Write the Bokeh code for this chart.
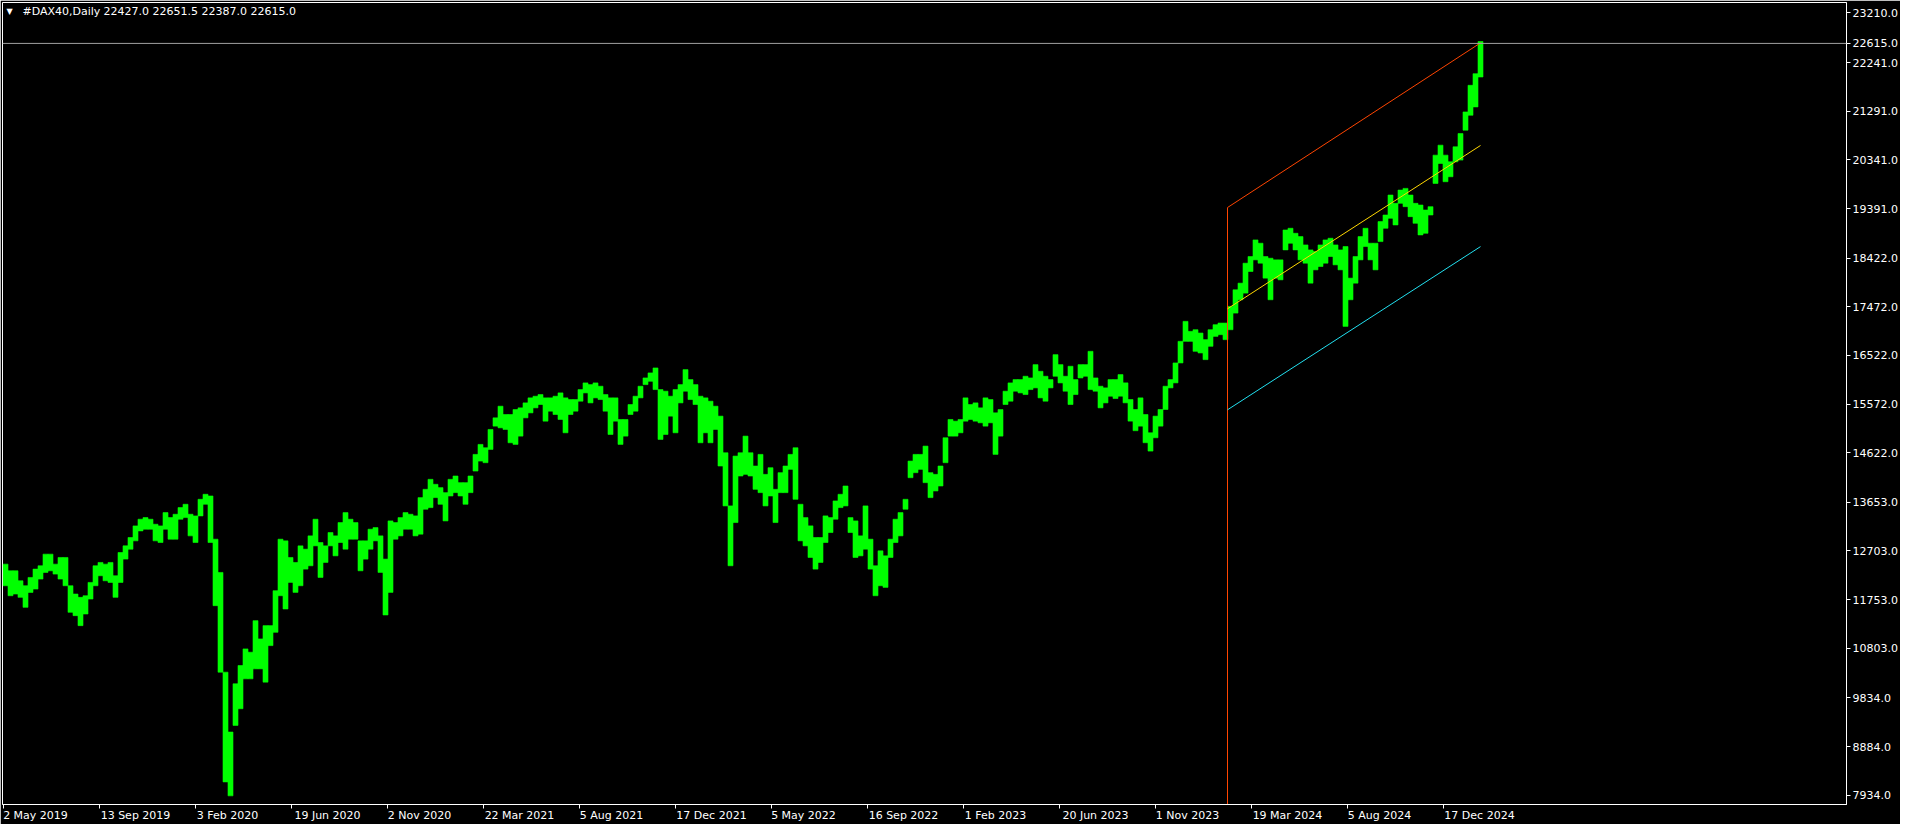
from bokeh.plotting import figure
from bokeh.models import Range1d, FixedTicker, NumeralTickFormatter, Span, Label, LinearAxis
from bokeh.embed import file_html
from bokeh.resources import INLINE

# ---------------- data ----------------
symbol = "#DAX40,Daily"
last_ohlc = [22427.0, 22651.5, 22387.0, 22615.0]   # open, high, low, close of the last bar

bars_per_group = 5   # each entry below is the high / low of 5 consecutive daily bars
group_high = [
    12446, 12316, 12316, 12121, 12024, 12186, 12349, 12414, 12641, 12641,
    12446, 12576, 12576, 12024, 11862, 11797, 11829, 12089, 12414, 12479,
    12446, 12479, 12219, 12673, 12803, 12966, 13193, 13323, 13355, 13323,
    13225, 13193, 13453, 13355, 13420, 13550, 13615, 13420, 13388, 13712,
    13810, 13777, 12933, 12284, 10336, 9167, 10109, 10466, 10791, 10726,
    11342, 10985, 11245, 11245, 11927, 12933, 12901, 12576, 12479, 12803,
    12738, 12998, 13323, 12868, 12803, 13063, 12998, 13258, 13453, 13323,
    13258, 12901, 12901, 13128, 13160, 12998, 12544, 13290, 13258, 13355,
    13453, 13420, 13388, 13745, 13907, 14102, 14005, 13940, 13842, 14102,
    14167, 14037, 14037, 14167, 14589, 14784, 14719, 15076, 15303, 15530,
    15368, 15368, 15465, 15498, 15595, 15693, 15725, 15758, 15693, 15693,
    15725, 15790, 15693, 15660, 15660, 15855, 15985, 15952, 15985, 15920,
    15758, 15693, 15693, 15271, 15271, 15563, 15725, 15920, 16082, 16180,
    16277, 15855, 15823, 15725, 15855, 15952, 16245, 16050, 15952, 15725,
    15693, 15628, 15530, 15336, 14621, 13583, 14556, 14621, 14946, 14621,
    14362, 14589, 14199, 14329, 13907, 14232, 14362, 14589, 14719, 13615,
    13355, 13193, 12966, 12966, 13388, 13355, 13680, 13810, 13972, 13355,
    13290, 12998, 13583, 12933, 12414, 12706, 12608, 12933, 13323, 13453,
    13712, 14459, 14589, 14589, 14751, 14232, 14199, 14362, 14914, 15271,
    15238, 15271, 15693, 15563, 15595, 15498, 15693, 15660, 15401, 15465,
    15823, 15985, 16050, 16050, 16115, 16082, 16342, 16212, 16115, 16050,
    16537, 16342, 16115, 16310, 16050, 16342, 16342, 16602, 16082, 15920,
    15888, 16050, 16050, 16148, 15986, 15661, 15466, 15693, 15368, 15011,
    15336, 15466, 15920, 16050, 16375, 16797, 17187, 16992, 17024, 16959,
    16830, 17024, 17122, 17154, 17154, 17479, 17804, 17933, 18323, 18453,
    18778, 18713, 18453, 18420, 18388, 18388, 18972, 19005, 18907, 18842,
    18680, 18583, 18550, 18680, 18778, 18810, 18680, 18583, 18648, 18031,
    18453, 18842, 19005, 18713, 18713, 19135, 19264, 19654, 19492, 19751,
    19784, 19654, 19492, 19459, 19362, 19427, 20433, 20628, 20433, 20303,
    20596, 20855, 21277, 21797, 22024, 22651.5,
]
group_low = [
    12024, 11829, 11862, 11797, 11602, 11894, 11959, 12154, 12284, 12316,
    12251, 12154, 12024, 11505, 11440, 11245, 11472, 11764, 12024, 12219,
    12121, 12089, 11797, 12089, 12544, 12738, 12901, 13095, 13128, 13128,
    12901, 12868, 13128, 12933, 12933, 13323, 13355, 12998, 12868, 13388,
    13615, 12868, 11635, 10336, 8193, 7921, 9297, 9622, 10206, 10206,
    10401, 10401, 10141, 10855, 11115, 11829, 11570, 12089, 11894, 12024,
    12349, 12414, 12803, 12186, 12479, 12803, 12608, 12868, 12738, 12933,
    12933, 12316, 12544, 12738, 12901, 12284, 11453, 11894, 12933, 12998,
    13128, 13128, 12998, 13031, 13518, 13550, 13745, 13615, 13290, 13777,
    13842, 13777, 13615, 13842, 14264, 14459, 14427, 14686, 15141, 15108,
    15076, 14816, 14784, 14946, 15303, 15400, 15498, 15563, 15238, 15433,
    15368, 15271, 15011, 15368, 15433, 15628, 15790, 15595, 15693, 15660,
    15433, 14978, 15238, 14784, 14946, 15368, 15433, 15693, 15952, 16017,
    15855, 14881, 14978, 15336, 15011, 15595, 15823, 15660, 15563, 14816,
    15011, 14816, 15076, 14362, 13583, 12414, 13258, 14167, 14199, 14167,
    13907, 13842, 13583, 13777, 13258, 13842, 13842, 14297, 13712, 12901,
    12803, 12576, 12349, 12479, 12868, 13063, 13323, 13550, 13583, 13063,
    12576, 12608, 12738, 12349, 11829, 12024, 11992, 12576, 12868, 12998,
    13518, 14134, 14232, 14297, 14037, 13745, 13875, 13972, 14427, 14946,
    14946, 15011, 15238, 15271, 15238, 15206, 15141, 15206, 14589, 14946,
    15563, 15628, 15823, 15790, 15758, 15855, 15888, 15693, 15628, 15888,
    16115, 15985, 15823, 15563, 15758, 16082, 16115, 15855, 15823, 15498,
    15595, 15725, 15680, 15726, 15596, 15239, 15052, 15141, 14817, 14654,
    14914, 15141, 15466, 15888, 15986, 16375, 16797, 16797, 16602, 16570,
    16440, 16700, 16894, 16927, 16830, 17024, 17349, 17609, 17739, 18161,
    18388, 18323, 18031, 17609, 18031, 17998, 18583, 18713, 18583, 18388,
    18323, 17933, 18193, 18258, 18323, 18453, 18291, 18193, 17089, 17609,
    17933, 18388, 18648, 18388, 18193, 18745, 19005, 19200, 19070, 19492,
    19427, 19232, 19102, 18875, 18907, 19264, 19881, 20271, 19914, 20011,
    20303, 20336, 20920, 21212, 21375, 21959,
]

date_tick_bars = [0, 96, 192, 288, 384, 480, 576, 672, 768, 864, 960, 1056, 1152, 1248, 1344, 1440]
date_tick_labels = ["2 May 2019", "13 Sep 2019", "3 Feb 2020", "19 Jun 2020", "2 Nov 2020",
                    "22 Mar 2021", "5 Aug 2021", "17 Dec 2021", "5 May 2022", "16 Sep 2022",
                    "1 Feb 2023", "20 Jun 2023", "1 Nov 2023", "19 Mar 2024", "5 Aug 2024",
                    "17 Dec 2024"]
price_ticks = [23210, 22241, 21291, 20341, 19391, 18422, 17472, 16522, 15572,
               14622, 13653, 12703, 11753, 10803, 9834, 8884, 7934]

# regression channel (bar index of start / end, price at start / end)
channel_bars = [1224, 1477]
channel_upper = [19410, 22625]
channel_mid = [17433, 20622]
channel_lower = [15460, 18647]

# ---------------- figure ----------------
FONT = "DejaVu Sans"
FS = 11
y_lo, y_hi = 7752, 23414
FRAME_W, FRAME_H = 1844, 804

p = figure(width=1900, height=824, output_backend="svg", toolbar_location=None,
           x_range=Range1d(-1, 1843), y_range=Range1d(y_lo, y_hi),
           y_axis_location="right",
           background_fill_color="black", border_fill_color="black",
           min_border_left=2, min_border_top=2, min_border_right=54, min_border_bottom=18)
p.grid.visible = False
p.outline_line_color = "white"
p.outline_line_width = 1

left = [g * bars_per_group - 0.5 for g in range(len(group_high))]
right = [l + bars_per_group for l in left]
p.quad(left=left, right=right, top=group_high, bottom=group_low,
       fill_color="#00ff00", line_color="#00ff00", line_width=0.6)

# last price line
p.add_layout(Span(location=last_ohlc[3], dimension="width", line_color="#a0a0a0", line_width=1))

# regression channel
p.segment(x0=[channel_bars[0]], y0=[channel_upper[0]], x1=[channel_bars[0]], y1=[y_lo],
          line_color="#ff4500", line_width=1)
p.line(channel_bars, channel_upper, line_color="#ff4500", line_width=1)
p.line(channel_bars, channel_mid, line_color="#ffd700", line_width=1)
p.line(channel_bars, channel_lower, line_color="#22e0f0", line_width=1)

# price axis (right); the last close is shown on it as well
ya = p.yaxis[0]
ya.ticker = FixedTicker(ticks=price_ticks + [last_ohlc[3]])
ya.formatter = NumeralTickFormatter(format="0.0")
ya.axis_line_color = "white"
ya.major_tick_line_color = "white"
ya.minor_tick_line_color = None
ya.major_tick_in = 0
ya.major_tick_out = 4
ya.major_label_standoff = 2
ya.major_label_text_color = "white"
ya.major_label_text_font = FONT
ya.major_label_text_font_size = f"{FS}px"

# time axis: tick marks only
xa = p.xaxis[0]
xa.ticker = FixedTicker(ticks=date_tick_bars)
xa.major_label_overrides = {b: "" for b in date_tick_bars}
xa.major_label_text_font_size = "0px"
xa.major_label_standoff = 0
xa.axis_line_color = "white"
xa.major_tick_line_color = "white"
xa.minor_tick_line_color = None
xa.major_tick_in = 0
xa.major_tick_out = 4

# time axis labels, left-aligned at their tick (MetaTrader style)
EM = {"0": .636, "1": .636, "2": .636, "3": .636, "4": .636, "5": .636, "6": .636, "7": .636,
      "8": .636, "9": .636, " ": .318}
def text_px(s):
    return sum(EM.get(c, .62) for c in s) * FS

bar_px = FRAME_W / (1843 - (-1))
label_pos = [int(round(b + (text_px(t) / 2 + 1) / bar_px)) for b, t in zip(date_tick_bars, date_tick_labels)]
xb = LinearAxis(ticker=FixedTicker(ticks=label_pos),
                major_label_overrides={pos: t for pos, t in zip(label_pos, date_tick_labels)})
xb.axis_line_color = None
xb.major_tick_line_color = None
xb.minor_tick_line_color = None
xb.major_tick_in = 0
xb.major_tick_out = 0
xb.minor_tick_in = 0
xb.minor_tick_out = 0
xb.major_label_standoff = 0
xb.major_label_text_color = "white"
xb.major_label_text_font = FONT
xb.major_label_text_font_size = f"{FS}px"
p.add_layout(xb, "below")

# header (screen units: measured from the bottom of the frame)
hy = FRAME_H - 10.5
p.add_layout(Label(x=4, y=hy, x_units="screen", y_units="screen", text="\u25bc",
                   text_color="white", text_font=FONT, text_font_size="8px",
                   text_baseline="middle"))
p.add_layout(Label(x=20, y=hy, x_units="screen", y_units="screen", text=symbol,
                   text_color="white", text_font=FONT, text_font_size=f"{FS}px",
                   text_baseline="middle"))
p.add_layout(Label(x=101, y=hy, x_units="screen", y_units="screen",
                   text=" ".join(f"{v:.1f}" for v in last_ohlc),
                   text_color="white", text_font=FONT, text_font_size=f"{FS}px",
                   text_baseline="middle"))

open("out.html", "w").write(file_html(p, INLINE))
